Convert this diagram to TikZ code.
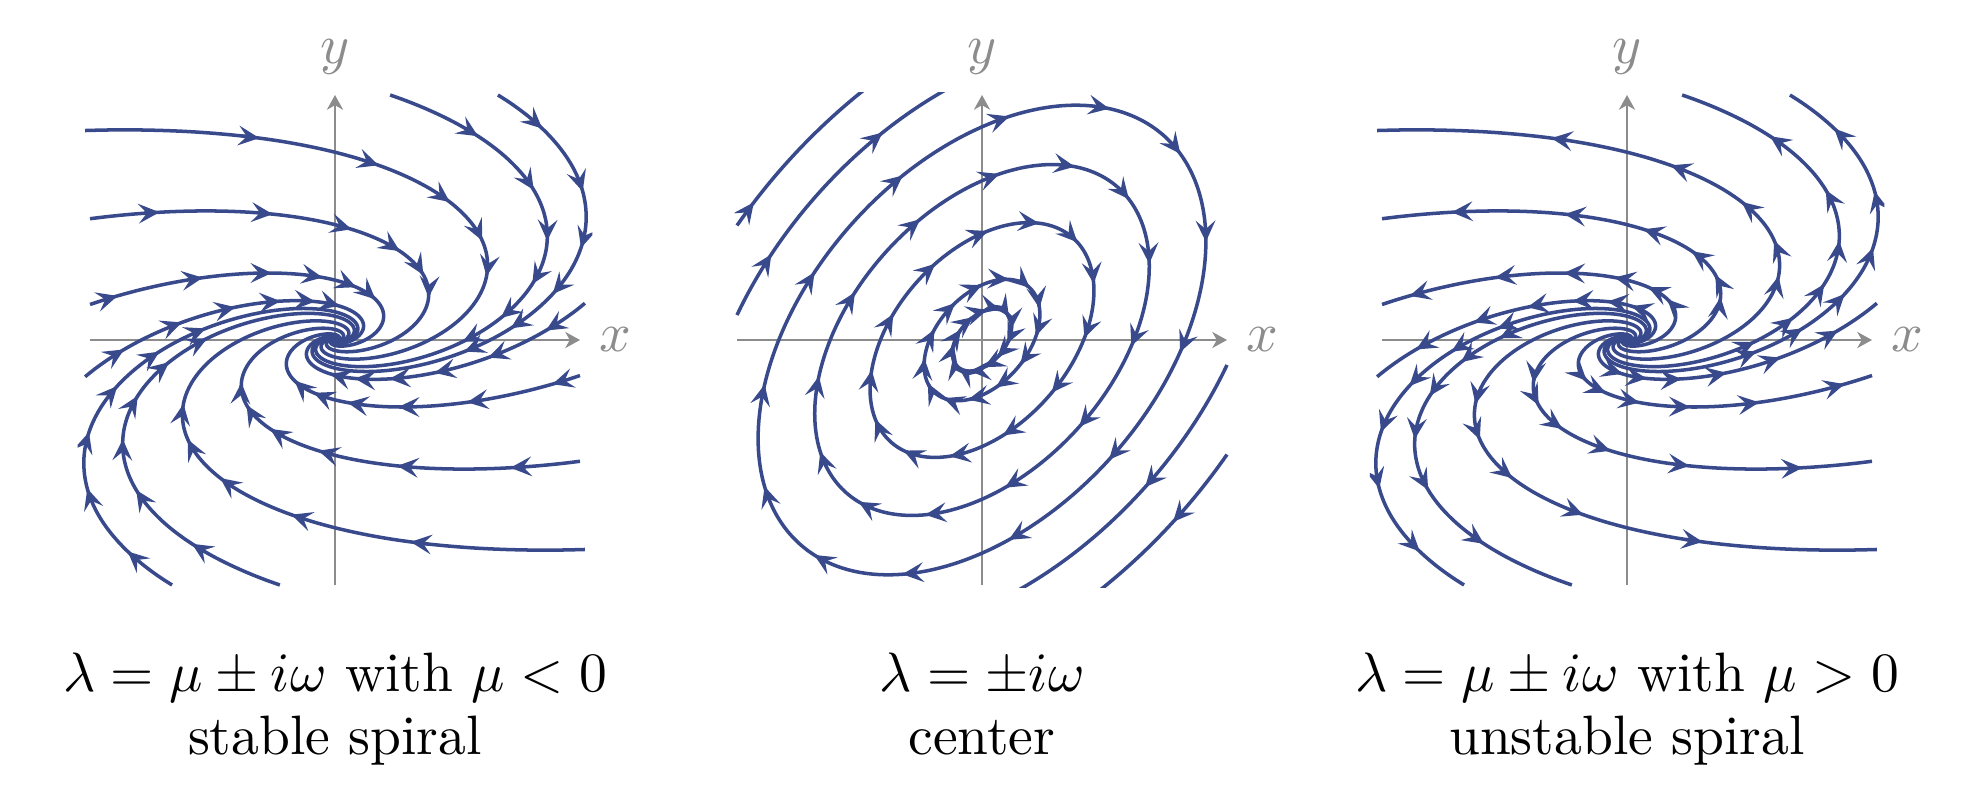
\documentclass[tikz,border=0pt]{standalone}
\usepackage{amsmath,amssymb}
\usepackage{graphicx}
\usetikzlibrary{arrows.meta}

\definecolor{flowblue}{RGB}{57,74,140}
\definecolor{axisgray}{RGB}{140,140,140}
\newcommand{\Lbig}[1]{\scalebox{1.58}{#1}}

\tikzset{
  axisline/.style={draw=axisgray, line width=0.55pt, -{Stealth[length=4.2pt,width=4.6pt,inset=1.3pt]}},
  axislabel/.style={text=axisgray, inner sep=0pt},
  traj/.style={draw=flowblue, line width=1pt, line join=round},
  trajtip/.style={draw=flowblue, line width=1pt, -{Stealth[length=6pt,width=5.6pt,inset=2.4pt]}},
  caption/.style={anchor=base, inner sep=0pt},
  declare function={
    decay(\t)=exp(-0.013305*\t);
    spx(\t,\x,\y)=decay(\t)*((\x)*cos(\t)+2.06*((\y)-0.12*(\x))*sin(\t));
    spy(\t,\x,\y)=decay(\t)*((\y)*cos(\t)-2.06*(0.25*(\x)-0.12*(\y))*sin(\t));
    cex(\t,\x,\y)=(\x)*cos(\t)+1.0504*((\y)-0.44*(\x))*sin(\t);
    cey(\t,\x,\y)=(\y)*cos(\t)-1.0504*(1.1*(\x)-0.44*(\y))*sin(\t);
  }
}

% axes of one panel
\newcommand{\drawaxes}[1]{%
  \coordinate (#1w) at (-2,0);
  \coordinate (#1e) at (2,0);
  \coordinate (#1s) at (0,-2);
  \coordinate (#1n) at (0,2);
  \draw[axisline] (#1w) -- (#1e);
  \draw[axisline] (#1s) -- (#1n);
  \node[axislabel] (#1x) at (2.286,0) {\Lbig{$x$}};
  \node[axislabel] (#1y) at (0,2.31) {\Lbig{$y$}};
}

% spiral trajectories, #1 = -2 (inward) or +2 (outward)
\newcommand{\spiralflow}[1]{%
  \begin{scope}
    \clip (-2.1,-2.06) rectangle (2.1,2.06);
    \foreach \sx/\sy/\so in {-2.04/1.71/17, -2/0.99/8.5, -2/0.29/5, -2.04/-0.3/12, -1.33/-2/9, -0.45/-2/14,
                             2.04/-1.71/17, 2/-0.99/8.5, 2/-0.29/5, 2.04/0.3/12, 1.33/2/9, 0.45/2/14}{
      \draw[traj] plot[domain=0:500, samples=300, smooth, variable=\t]
        ({spx(\t,\sx,\sy)},{spy(\t,\sx,\sy)});
      \foreach \k in {0,...,5}{
        \pgfmathsetmacro\ta{\so+17*\k}
        \pgfmathsetmacro\tb{\ta#1}
        \ifdim\ta pt<101pt
          \draw[trajtip] ({spx(\tb,\sx,\sy)},{spy(\tb,\sx,\sy)}) -- ({spx(\ta,\sx,\sy)},{spy(\ta,\sx,\sy)});
        \fi
      }
    }
  \end{scope}
}

\begin{document}
\begin{tikzpicture}[x=1.225cm,y=1.225cm]
  \useasboundingbox (-3.35cm,-4.56cm) rectangle (16.27cm,3.40cm);

  % stable spiral
  \begin{scope}
    \drawaxes{s}
    \spiralflow{-2}
    \node[caption] (seig) at (0,-3.51cm) {\Lbig{$\lambda=\mu\pm i\omega$ with $\mu<0$}};
    \node[caption] (sname) at (0,-4.14cm) {\Lbig{stable spiral}};
  \end{scope}

  % center
  \begin{scope}[xshift=6.47cm]
    \drawaxes{c}
    \begin{scope}
      \clip (-2.02,-2.02) rectangle (2.02,2.02);
      \foreach \ly/\lo in {0.23/10, 0.45/0, 0.87/3, 1.3/6, 1.74/7}{
        \draw[traj] plot[domain=0:360, samples=121, smooth, variable=\t]
          ({cex(\t,0,\ly)},{cey(\t,0,\ly)});
        \foreach \k in {0,...,12}{
          \pgfmathsetmacro\ta{\lo+27.69*\k}
          \draw[trajtip] ({cex(\ta-2,0,\ly)},{cey(\ta-2,0,\ly)}) -- ({cex(\ta,0,\ly)},{cey(\ta,0,\ly)});
        }
      }
      \foreach \sx/\sy/\te/\so/\nk in {-2/0.935/35/4/0, -2/0.204/60/12/1, 2/-0.935/35/12/0, 2/-0.204/60/25/0}{
        \draw[traj] plot[domain=0:\te, samples=40, smooth, variable=\t]
          ({cex(\t,\sx,\sy)},{cey(\t,\sx,\sy)});
        \foreach \k in {0,...,\nk}{
          \pgfmathsetmacro\ta{\so+27.69*\k}
          \draw[trajtip] ({cex(\ta-2,\sx,\sy)},{cey(\ta-2,\sx,\sy)}) -- ({cex(\ta,\sx,\sy)},{cey(\ta,\sx,\sy)});
        }
      }
    \end{scope}
    \node[caption] (ceig) at (0,-3.51cm) {\Lbig{$\lambda=\pm i\omega$}};
    \node[caption] (cname) at (0,-4.14cm) {\Lbig{center}};
  \end{scope}

  % unstable spiral
  \begin{scope}[xshift=12.92cm]
    \drawaxes{u}
    \spiralflow{+2}
    \node[caption] (ueig) at (0,-3.51cm) {\Lbig{$\lambda=\mu\pm i\omega$ with $\mu>0$}};
    \node[caption] (uname) at (0,-4.14cm) {\Lbig{unstable spiral}};
  \end{scope}
\end{tikzpicture}
\end{document}
